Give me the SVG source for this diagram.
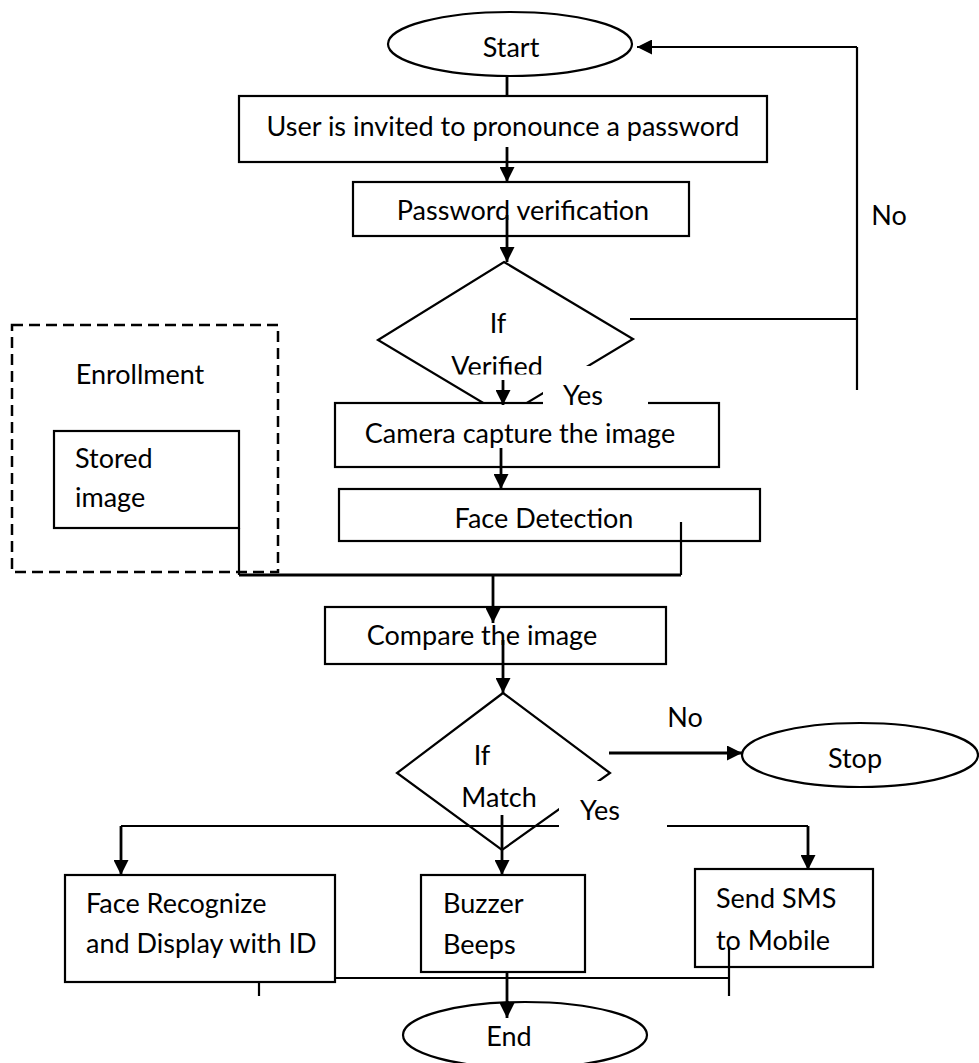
<svg xmlns="http://www.w3.org/2000/svg" width="979" height="1063" viewBox="0 0 979 1063">
<style>
.n{fill:#fff;stroke:#000;stroke-width:2.2}
.t{font-family:Lato,"Liberation Sans",sans-serif;font-size:27px;fill:#000}
.c{text-anchor:middle}
.ln{fill:none;stroke:#000;stroke-width:2.8}
.thin{fill:none;stroke:#000;stroke-width:2.2}
.dash{fill:none;stroke:#000;stroke-width:2.5;stroke-dasharray:11 6}
.bg{fill:#fff;stroke:none}
</style>
<defs>
<marker id="ah" markerUnits="userSpaceOnUse" markerWidth="15" markerHeight="15" refX="15" refY="7.5" orient="auto">
<path d="M0,0 L15,7.5 L0,15 z" fill="#000"/>
</marker>
<clipPath id="clipv"><rect x="430" y="280" width="170" height="94.5"/></clipPath>
</defs>
<rect width="979" height="1063" fill="#fff"/>

<g id="enrollment-frame">
<rect class="dash" x="12" y="325" width="266" height="247"/>
<text class="t c" x="140" y="384">Enrollment</text>
</g>
<g id="stored-image">
<rect class="n" x="54" y="431" width="185" height="97"/>
<text class="t" x="75" y="468">Stored</text>
<text class="t" x="75" y="507">image</text>
</g>
<g id="start">
<ellipse class="n" cx="510" cy="44" rx="122" ry="32"/>
<text class="t c" x="511" y="57">Start</text>
</g>
<g id="invite">
<rect class="n" x="239" y="96" width="528" height="66"/>
<text class="t c" x="503" y="136">User is invited to pronounce a password</text>
</g>
<g id="verify">
<rect class="n" x="353" y="182" width="336" height="54"/>
<text class="t c" x="523" y="220">Password verification</text>
</g>
<g id="if-verified">
<polygon class="n" points="504,262 633,339 505,416 378,340"/>
<text class="t c" x="498" y="333">If</text>
<text class="t c" x="497" y="376" clip-path="url(#clipv)">Verified</text>
</g>
<g id="camera">
<rect class="n" x="335" y="403" width="384" height="64"/>
<text class="t c" x="520" y="443">Camera capture the image</text>
</g>
<g id="face-detection">
<rect class="n" x="339" y="489" width="421" height="52"/>
<text class="t c" x="544" y="528">Face Detection</text>
</g>
<g id="compare">
<rect class="n" x="325" y="607" width="341" height="57"/>
<text class="t c" x="482" y="645">Compare the image</text>
</g>
<g id="if-match">
<polygon class="n" points="503,693 610,773 502,850 397,773"/>
<text class="t c" x="482" y="765">If</text>
<text class="t c" x="499" y="807">Match</text>
</g>
<g id="stop">
<ellipse class="n" cx="860" cy="755" rx="118" ry="32"/>
<text class="t c" x="855" y="768">Stop</text>
</g>
<g id="face-recognize">
<rect class="n" x="65" y="875" width="270" height="107"/>
<text class="t" x="86" y="913">Face Recognize</text>
<text class="t" x="86" y="953">and Display with ID</text>
</g>
<g id="buzzer">
<rect class="n" x="421" y="875" width="164" height="97"/>
<text class="t" x="443" y="913">Buzzer</text>
<text class="t" x="443" y="954">Beeps</text>
</g>
<g id="sms">
<rect class="n" x="695" y="869" width="178" height="98"/>
<text class="t" x="716" y="908">Send SMS</text>
<text class="t" x="716" y="950">to Mobile</text>
</g>
<g id="end">
<ellipse class="n" cx="525" cy="1035" rx="122" ry="33"/>
<text class="t c" x="509" y="1046">End</text>
</g>

<g id="connectors">
<line class="ln" x1="507" y1="76" x2="507" y2="96"/>
<line class="ln" x1="507" y1="147" x2="507" y2="182" marker-end="url(#ah)"/>
<line class="ln" x1="507" y1="215" x2="507" y2="262" marker-end="url(#ah)"/>
<line class="thin" x1="630" y1="319" x2="857" y2="319"/>
<line class="thin" x1="857" y1="390" x2="857" y2="47"/>
<line class="thin" x1="857" y1="47" x2="637" y2="47" marker-end="url(#ah)"/>
<line class="ln" x1="503" y1="380" x2="503" y2="405" marker-end="url(#ah)"/>
<line class="ln" x1="501" y1="448" x2="501" y2="489" marker-end="url(#ah)"/>
<line class="thin" x1="681" y1="522" x2="681" y2="575"/>
<line class="thin" x1="239" y1="528" x2="239" y2="575"/>
<line class="ln" x1="239" y1="575" x2="681" y2="575"/>
<line class="ln" x1="493" y1="575" x2="493" y2="623" marker-end="url(#ah)"/>
<line class="ln" x1="503" y1="640" x2="503" y2="693" marker-end="url(#ah)"/>
<line class="ln" x1="609" y1="753" x2="742" y2="753" marker-end="url(#ah)"/>
<line class="thin" x1="121" y1="826" x2="808" y2="826"/>
<line class="ln" x1="121" y1="826" x2="121" y2="875" marker-end="url(#ah)"/>
<line class="ln" x1="808" y1="826" x2="808" y2="870" marker-end="url(#ah)"/>
<line class="ln" x1="502" y1="815" x2="502" y2="875" marker-end="url(#ah)"/>
<line class="thin" x1="335" y1="978" x2="729" y2="978"/>
<line class="thin" x1="259" y1="982" x2="259" y2="996"/>
<line class="thin" x1="729" y1="947" x2="729" y2="996"/>
<line class="ln" x1="507" y1="972" x2="507" y2="1018" marker-end="url(#ah)"/>
</g>

<g id="labels">
<rect class="bg" x="543" y="366" width="105" height="39"/>
<text class="t c" x="583" y="405">Yes</text>
<text class="t c" x="889" y="225">No</text>
<text class="t c" x="685" y="727">No</text>
<rect class="bg" x="559" y="781" width="108" height="47"/>
<text class="t c" x="600" y="820">Yes</text>
</g>
</svg>
